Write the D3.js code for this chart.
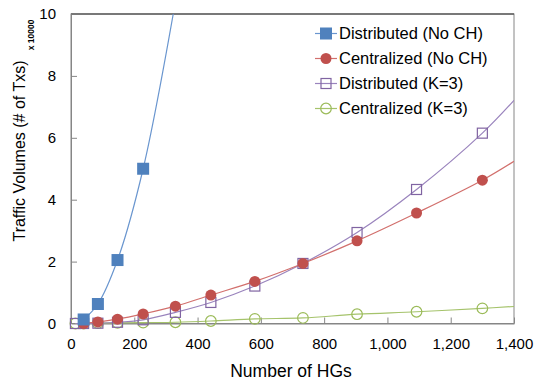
<!DOCTYPE html>
<html>
<head>
<meta charset="utf-8">
<script src="https://cdn.jsdelivr.net/npm/d3@7"></script>
<style>
  body { margin: 0; background: #fff; }
  text { font-family: "Liberation Sans", Arial, sans-serif; fill: #000; }
</style>
</head>
<body>
<div id="chart"></div>
<script>
// number of HGs on each measured point
const hgs = [40, 85, 147, 228, 330, 442, 581, 733, 904, 1092, 1300];
const hgsK3 = [14, 40, 85, 147, 228, 330, 442, 581, 733, 904, 1092, 1300];

// traffic volumes (x 10000)
const distNoCH = [0.13, 0.63, 2.05, 5.0, 10.4];
const centNoCH = [0.0, 0.05, 0.14, 0.31, 0.56, 0.92, 1.36, 1.94, 2.67, 3.57, 4.63];
const distK3 = [0.0, 0.0, 0.01, 0.04, 0.12, 0.36, 0.68, 1.21, 1.94, 2.94, 4.33, 6.15];
const centK3 = [0.0, 0.0, 0.01, 0.02, 0.03, 0.04, 0.08, 0.15, 0.18, 0.3, 0.38, 0.49];
// where the curves meet the right edge (x = 1400)
const edgeX = 1400;
const centNoCHEdge = 5.24;
const distK3Edge = 7.21;
const centK3Edge = 0.55;

const xTicks = [0, 200, 400, 600, 800, 1000, 1200, 1400];
const yTicks = [0, 2, 4, 6, 8, 10];

const margin = { top: 14, right: 21, bottom: 57.5, left: 71 },
  width = 535 - margin.left - margin.right,
  height = 381 - margin.top - margin.bottom;

const svg = d3.select('#chart').append('svg')
  .attr('width', 535).attr('height', 381);
const g = svg.append('g')
  .attr('transform', 'translate(' + margin.left + ',' + margin.top + ')');

const x = d3.scaleLinear().domain([0, 1400]).range([0, width]);
const y = d3.scaleLinear().domain([0, 10]).range([height, 0]);

g.append('clipPath').attr('id', 'clip')
  .append('rect').attr('x', -8).attr('y', 0).attr('width', width + 8).attr('height', height + 8);

// plot border
g.append('rect').attr('width', width).attr('height', height)
  .attr('fill', 'none').attr('stroke', '#868686').attr('stroke-width', 1);
g.append('line').attr('x1', 0).attr('x2', width).attr('y1', 0).attr('y2', 0)
  .attr('stroke', '#5f5f5f').attr('stroke-width', 1.5);

// axes with inside ticks
const xAxis = g.append('g').attr('transform', 'translate(0,' + height + ')')
  .call(d3.axisBottom(x).tickValues(xTicks).tickSizeInner(-6).tickSizeOuter(0)
    .tickPadding(15).tickFormat(d3.format(',')));
const yAxis = g.append('g')
  .call(d3.axisLeft(y).tickValues(yTicks).tickSizeInner(-6).tickSizeOuter(0)
    .tickPadding(15).tickFormat(d3.format('d')));
[xAxis, yAxis].forEach(a => {
  a.select('.domain').attr('stroke', '#868686');
  a.selectAll('.tick line').attr('stroke', '#868686');
  a.selectAll('.tick text').style('font-size', '15px')
    .style('font-family', '"Liberation Sans", Arial, sans-serif').attr('fill', '#000');
});
xAxis.selectAll('.tick').filter(d => d === 0).select('line').remove();
yAxis.selectAll('.tick').filter(d => d === 0 || d === 10).select('line').remove();

// titles
svg.append('text').attr('x', 291).attr('y', 377).attr('text-anchor', 'middle')
  .style('font-size', '17.5px').text('Number of HGs');
svg.append('text').attr('transform', 'translate(25,151) rotate(-90)')
  .attr('text-anchor', 'middle').style('font-size', '16px').text('Traffic Volumes (# of Txs)');
svg.append('text').attr('transform', 'translate(34,35) rotate(-90)')
  .attr('text-anchor', 'middle').style('font-size', '8.5px').style('font-weight', 'bold')
  .text('x 10000');

const series = [
  { name: 'Distributed (No CH)', color: '#4F81BD', line: '#6a96cf', shape: 'square', filled: true,
    xs: hgs.slice(0, distNoCH.length), ys: distNoCH, edge: null },
  { name: 'Centralized (No CH)', color: '#C0504D', line: '#d2706d', shape: 'circle', filled: true,
    xs: hgs, ys: centNoCH, edge: centNoCHEdge },
  { name: 'Distributed (K=3)', color: '#8064A2', line: '#9a84bd', shape: 'square', filled: false,
    xs: hgsK3, ys: distK3, edge: distK3Edge },
  { name: 'Centralized (K=3)', color: '#9BBB59', line: '#a5c36b', shape: 'circle', filled: false,
    xs: hgsK3, ys: centK3, edge: centK3Edge }
];

const line = d3.line().x(d => x(d[0])).y(d => y(d[1])).curve(d3.curveCatmullRom.alpha(0.5));

const plot = g.append('g').attr('clip-path', 'url(#clip)');

function drawMarker(sel, s, cx, cy) {
  if (s.shape === 'square') {
    const sz = s.filled ? 12 : 10;
    sel.append('rect').attr('x', cx - sz / 2).attr('y', cy - sz / 2)
      .attr('width', sz).attr('height', sz)
      .attr('fill', s.filled ? s.color : 'none')
      .attr('stroke', s.color).attr('stroke-width', s.filled ? 0 : 1.2);
  } else {
    sel.append('circle').attr('cx', cx).attr('cy', cy).attr('r', s.filled ? 5.5 : 5.3)
      .attr('fill', s.filled ? s.color : 'none')
      .attr('stroke', s.color).attr('stroke-width', s.filled ? 0 : 1.2);
  }
}

// draw from back to front so the blue squares stay on top
series.slice().reverse().forEach(s => {
  const pts = s.xs.map((v, i) => [v, s.ys[i]]);
  const linePts = s.edge !== null ? pts.concat([[edgeX, s.edge]]) : pts;
  plot.append('path').datum(linePts).attr('d', line)
    .attr('fill', 'none').attr('stroke', s.line).attr('stroke-width', 1.2);
  const mk = plot.append('g');
  pts.filter(p => p[1] <= 10).forEach(p => drawMarker(mk, s, x(p[0]), y(p[1])));
});

// legend
const legend = svg.append('g');
series.forEach((s, i) => {
  const ly = 33.5 + i * 25;
  legend.append('line').attr('x1', 315).attr('x2', 337).attr('y1', ly).attr('y2', ly)
    .attr('stroke', s.line).attr('stroke-width', 1.2);
  drawMarker(legend, s, 326, ly);
  legend.append('text').attr('x', 339).attr('y', ly + 5.8)
    .style('font-size', '16.5px').text(s.name);
});
</script>
</body>
</html>
